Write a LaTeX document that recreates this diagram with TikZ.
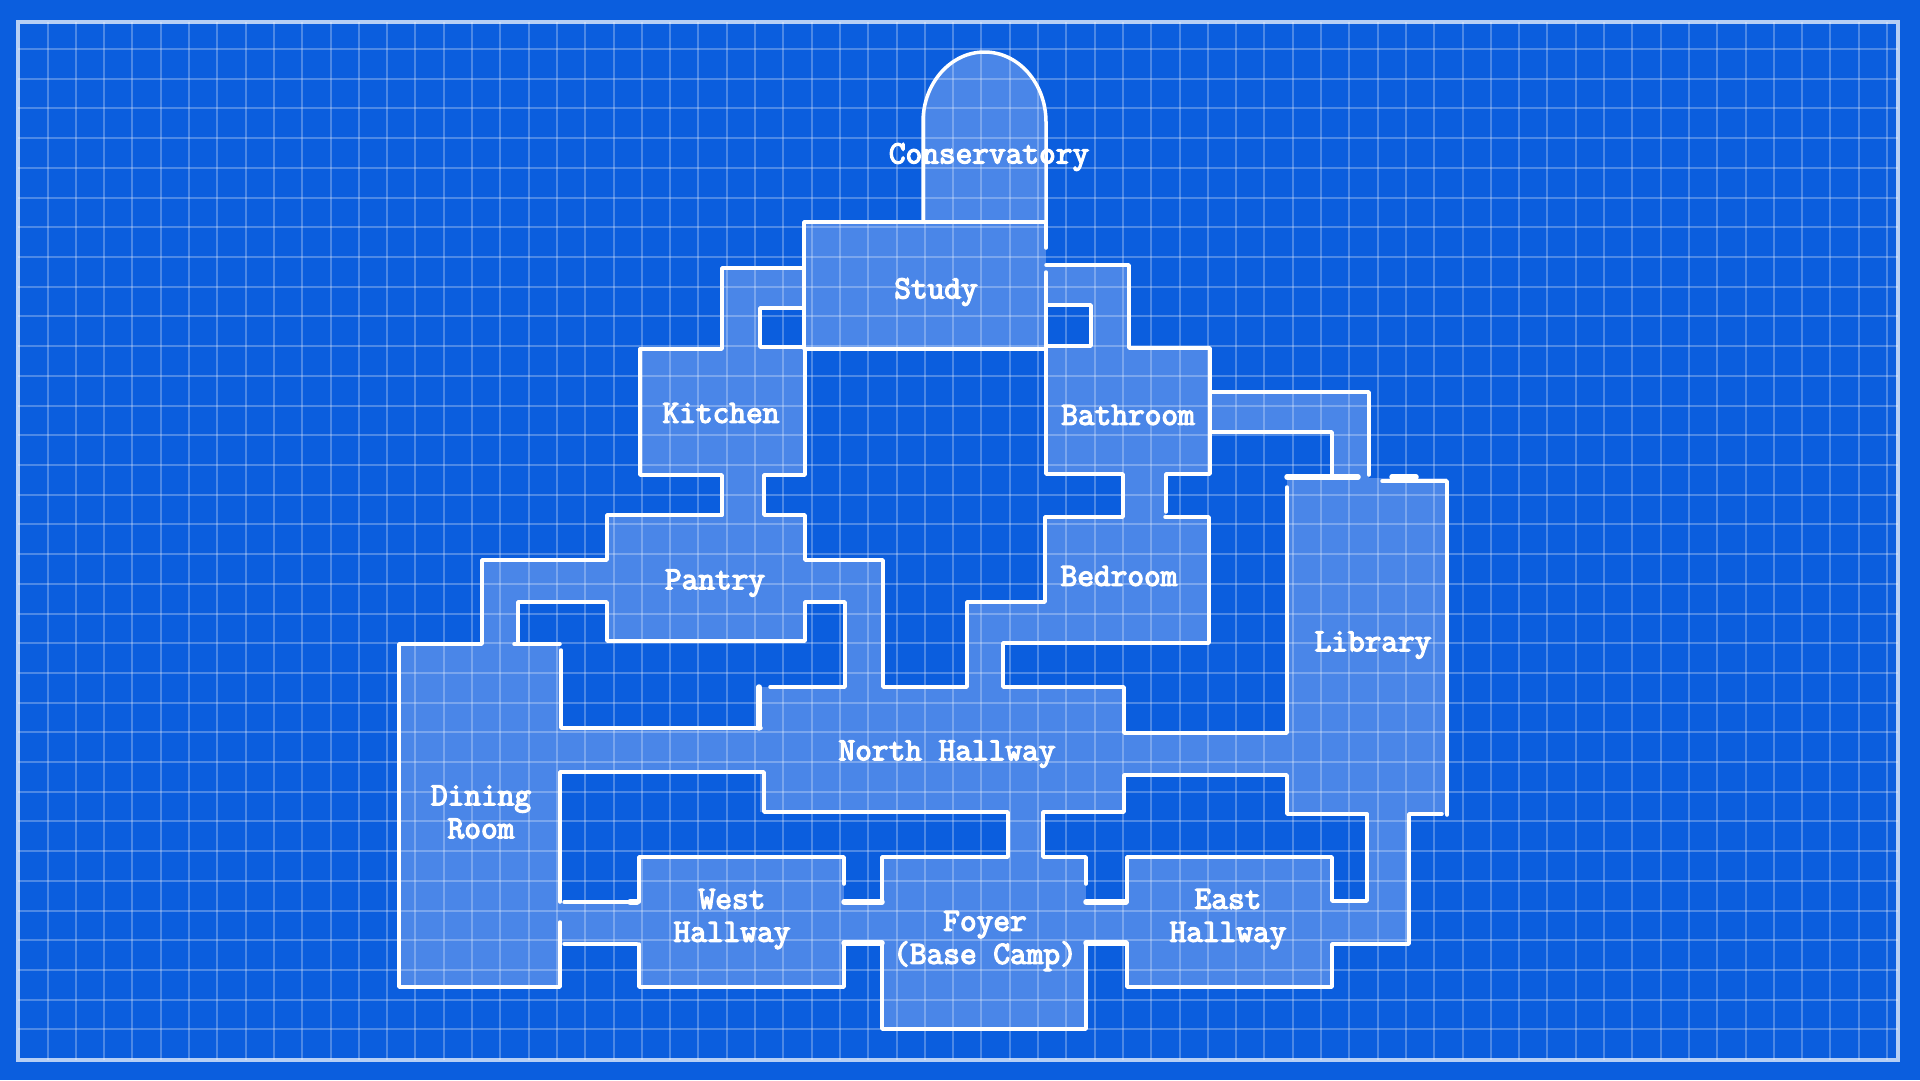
\documentclass[tikz,border=0pt]{standalone}
\usepackage{fontspec}
\usepackage{tikz}

\newfontfamily\planfont[FakeBold=4]{Latin Modern Mono}

\definecolor{planblue}{HTML}{0B5EDE}
\definecolor{roomblue}{HTML}{4A86E8}

\tikzset{
    roomfill/.style={fill=roomblue},
    gridline/.style={white, opacity=0.27, line width=2pt},
    frameline/.style={white, opacity=0.7, line width=4pt},
    wall/.style={white, line width=3.5pt, line join=round, line cap=round},
    thickwall/.style={white, line width=5.5pt, line cap=round},
    roomlabel/.style={white, align=center, font=\fontsize{32.4}{33}\selectfont\planfont}
}

\begin{document}
\begin{tikzpicture}[x=1pt,y=-1pt]

        \fill[planblue] (0,0) rectangle (1920,1080);

        \fill[roomfill] (923,222) -- (923,122) arc[start angle=180, end angle=360, x radius=61.5, y radius=71] -- (1046,222) -- cycle;
        \fill[roomfill] (804,222) rectangle (1046,349);
        \fill[roomfill] (640,349) rectangle (805,475);
        \fill[roomfill] (722,268) rectangle (804,308);
        \fill[roomfill] (722,308) rectangle (760,349);
        \fill[roomfill] (1046,265) rectangle (1129,305);
        \fill[roomfill] (1091,305) rectangle (1129,348);
        \fill[roomfill] (1046,348) rectangle (1210,474);
        \fill[roomfill] (1123,474) rectangle (1166,517);
        \fill[roomfill] (722,475) rectangle (764,515);
        \fill[roomfill] (607,515) rectangle (805,641);
        \fill[roomfill] (482,560) rectangle (607,602);
        \fill[roomfill] (482,602) rectangle (518,644);
        \fill[roomfill] (805,560) rectangle (883,602);
        \fill[roomfill] (845,602) rectangle (883,687);
        \fill[roomfill] (1045,517) rectangle (1209,643);
        \fill[roomfill] (967,602) rectangle (1045,643);
        \fill[roomfill] (967,643) rectangle (1003,687);
        \fill[roomfill] (760,687) rectangle (1124,812);
        \fill[roomfill] (399,644) rectangle (560,987);
        \fill[roomfill] (560,728) rectangle (760,772);
        \fill[roomfill] (1124,733) rectangle (1287,775);
        \fill[roomfill] (1287,478) rectangle (1447,814);
        \fill[roomfill] (1210,392) rectangle (1369,432);
        \fill[roomfill] (1332,432) rectangle (1369,478);
        \fill[roomfill] (1367,814) rectangle (1409,944);
        \fill[roomfill] (1332,901) rectangle (1367,944);
        \fill[roomfill] (1127,857) rectangle (1332,987);
        \fill[roomfill] (1008,812) rectangle (1043,857);
        \fill[roomfill] (882,857) rectangle (1086,1029);
        \fill[roomfill] (639,857) rectangle (844,987);
        \fill[roomfill] (844,902) rectangle (882,943);
        \fill[roomfill] (1086,902) rectangle (1127,943);
        \fill[roomfill] (560,902) rectangle (639,944);

        \foreach \i in {0,...,65}
            \draw[gridline] ({47.5+28.3*\i},22) -- ({47.5+28.3*\i},1060);
        \foreach \j in {0,...,33}
            \draw[gridline] (18,{49+29.71*\j}) -- (1898,{49+29.71*\j});
        \draw[frameline] (18,22) rectangle (1898,1060);

        \draw[wall] (923,222) -- (923,122) arc[start angle=180, end angle=360, x radius=61.5, y radius=70] -- (1046,222);
        \draw[wall] (1046,248) -- (1046,222) -- (804,222) -- (804,349) -- (1046,349) -- (1046,272);
        \draw[wall] (640,349) -- (722,349) -- (722,268) -- (804,268);
        \draw[wall] (804,308) -- (760,308) -- (760,347) -- (804,347);
        \draw[wall] (722,515) -- (722,475) -- (640,475) -- (640,349);
        \draw[wall] (805,349) -- (805,475) -- (764,475) -- (764,515) -- (805,515) -- (805,560) -- (883,560) -- (883,687) -- (967,687) -- (967,602) -- (1045,602) -- (1045,517) -- (1123,517) -- (1123,474) -- (1046,474) -- (1046,349);
        \draw[wall] (1046,265) -- (1129,265) -- (1129,348) -- (1210,348) -- (1210,474) -- (1166,474) -- (1166,512);
        \draw[wall] (1046,305) -- (1091,305) -- (1091,346) -- (1046,346) -- cycle;
        \draw[wall] (1165,517) -- (1209,517) -- (1209,643) -- (1003,643) -- (1003,687) -- (1124,687) -- (1124,733) -- (1287,733) -- (1287,487);
        \draw[wall] (1210,392) -- (1369,392) -- (1369,475);
        \draw[wall] (1210,432) -- (1332,432) -- (1332,477);
        \draw[thickwall] (1287,477) -- (1358,477);
        \draw[thickwall] (1392,477) -- (1416,477);
        \draw[wall] (1382,481) -- (1447,481) -- (1447,815);
        \draw[wall] (1442,814) -- (1409,814) -- (1409,944) -- (1332,944) -- (1332,987) -- (1127,987) -- (1127,943);
        \draw[wall] (1086,943) -- (1086,1029) -- (882,1029) -- (882,943);
        \draw[wall] (1367,814) -- (1287,814) -- (1287,775) -- (1124,775) -- (1124,812) -- (1043,812) -- (1043,857) -- (1086,857) -- (1086,884);
        \draw[wall] (1367,814) -- (1367,901) -- (1332,901) -- (1332,857) -- (1127,857) -- (1127,902);
        \draw[wall] (722,515) -- (607,515) -- (607,560) -- (482,560) -- (482,644) -- (399,644) -- (399,987) -- (560,987) -- (560,922);
        \draw[wall] (514,644) -- (560,644);
        \draw[wall] (518,644) -- (518,602) -- (607,602) -- (607,641) -- (805,641) -- (805,602) -- (845,602) -- (845,687) -- (770,687);
        \draw[thickwall] (759,687) -- (759,728);
        \draw[wall] (561,650) -- (561,728) -- (761,728);
        \draw[wall] (560,902) -- (560,772) -- (764,772) -- (764,812) -- (1008,812) -- (1008,857) -- (882,857) -- (882,902);
        \draw[wall] (564,902) -- (637,902);
        \draw[wall] (564,944) -- (637,944);
        \draw[thickwall] (630,902) -- (637,902);
        \draw[wall] (639,902) -- (639,857) -- (844,857) -- (844,884);
        \draw[wall] (639,944) -- (639,987) -- (844,987) -- (844,943);
        \draw[thickwall] (844,902) -- (882,902);
        \draw[thickwall] (844,943) -- (882,943);
        \draw[thickwall] (1086,902) -- (1126,902);
        \draw[thickwall] (1086,943) -- (1126,943);

        \node[roomlabel] (conservatory) at (989,157) {Conservatory};
        \node[roomlabel] (study) at (936,292) {Study};
        \node[roomlabel] (kitchen) at (721,413) {Kitchen};
        \node[roomlabel] (bathroom) at (1128,415) {Bathroom};
        \node[roomlabel] (pantry) at (715,583) {Pantry};
        \node[roomlabel] (bedroom) at (1119,576) {Bedroom};
        \node[roomlabel] (library) at (1373,645) {Library};
        \node[roomlabel] (northhall) at (947,754) {North Hallway};
        \node[roomlabel] (dining) at (481,812) {Dining\\Room};
        \node[roomlabel] (westhall) at (732,919) {West\\Hallway};
        \node[roomlabel] (foyer) at (985,941) {Foyer\\(Base Camp)};
        \node[roomlabel] (easthall) at (1228,919) {East\\Hallway};

\end{tikzpicture}
\end{document}
